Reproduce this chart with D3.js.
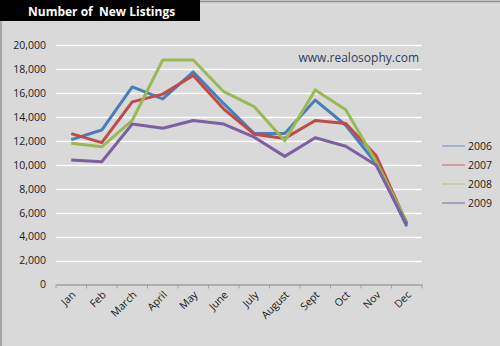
<!DOCTYPE html>
<html>
<head>
<meta charset="utf-8">
<script src="https://cdn.jsdelivr.net/npm/d3@7"></script>
<style>
  html, body { margin: 0; padding: 0; background: #d9d9d9; }
  svg { display: block; }
</style>
</head>
<body>
<div id="chart"></div>
<script>
// Monthly new listings, one array per year
const months = ["Jan", "Feb", "March", "April", "May", "June", "July", "August", "Sept", "Oct", "Nov", "Dec"];
const years = ["2006", "2007", "2008", "2009"];
const listings2006 = [12100, 12900, 16500, 15500, 17750, 15100, 12600, 12600, 15400, 13300, 10100, 4850];
const listings2007 = [12600, 11850, 15250, 15900, 17450, 14650, 12550, 12200, 13700, 13450, 10750, 5100];
const listings2008 = [11800, 11500, 13700, 18750, 18750, 16100, 14850, 12000, 16250, 14600, 10250, 5200];
const listings2009 = [10400, 10250, 13400, 13050, 13700, 13400, 12300, 10700, 12250, 11550, 9950, 5000];
const yTicks = [0, 2000, 4000, 6000, 8000, 10000, 12000, 14000, 16000, 18000, 20000];
const colors = ["#4a7ebb", "#be4b48", "#98b954", "#7d60a0"];
const legendColors = ["#8fa9cc", "#cf8d8b", "#b7cc94", "#9a8bb0"];

const series = [listings2006, listings2007, listings2008, listings2009];

const W = 500, H = 346;
const plotLeft = 56, plotRight = 422, plotTop = 45, plotBottom = 284.5;

const svg = d3.select("#chart").append("svg").attr("width", W).attr("height", H);

svg.append("rect").attr("width", W).attr("height", H).attr("fill", "#d9d9d9");
// outer frame
svg.append("line").attr("x1", 200).attr("x2", W).attr("y1", 1.5).attr("y2", 1.5)
  .attr("stroke", "#8c8c8c").attr("stroke-width", 1.5);
svg.append("line").attr("x1", 1).attr("x2", 1).attr("y1", 0).attr("y2", H)
  .attr("stroke", "#a6a6a6").attr("stroke-width", 2);

// title banner
svg.append("rect").attr("x", 0).attr("y", 0).attr("width", 200).attr("height", 21).attr("fill", "#000");
svg.append("text").attr("x", 28).attr("y", 15.5)
  .attr("font-family", "Open Sans, DejaVu Sans, sans-serif").attr("font-weight", "bold")
  .attr("font-size", 12).attr("fill", "#fff").attr("xml:space", "preserve")
  .text("Number of  New Listings");

const x = d3.scaleBand().domain(months).range([plotLeft, plotRight]);
const y = d3.scaleLinear().domain([0, 20000]).range([plotBottom, plotTop]);

// gridlines
svg.append("g").selectAll("line").data(yTicks.filter(d => d > 0)).join("line")
  .attr("x1", plotLeft).attr("x2", plotRight)
  .attr("y1", d => Math.round(y(d)) + 0.5).attr("y2", d => Math.round(y(d)) + 0.5)
  .attr("stroke", "#ffffff").attr("stroke-width", 1.5);

// y axis labels
const yAxis = d3.axisLeft(y).tickValues(yTicks).tickSize(0).tickPadding(10)
  .tickFormat(d3.format(","));
const gy = svg.append("g").attr("transform", `translate(${plotLeft},0)`).call(yAxis);
gy.select(".domain").remove();
gy.selectAll("text").attr("font-family", "Open Sans, DejaVu Sans, sans-serif")
  .attr("font-size", 10.5).attr("fill", "#1a1a1a");

// x axis
const xAxis = d3.axisBottom(x).tickSize(0).tickPadding(0);
const gx = svg.append("g").attr("transform", `translate(0,${plotBottom})`).call(xAxis);
gx.select(".domain").attr("stroke", "#a0a0a0").attr("stroke-width", 1.5);
gx.selectAll("text")
  .attr("font-family", "Open Sans, DejaVu Sans, sans-serif")
  .attr("font-size", 10.5).attr("fill", "#1a1a1a")
  .attr("text-anchor", "end").attr("dy", 0)
  .attr("transform", "translate(5,11) rotate(-45)");
// tick marks on category boundaries
const bounds = months.map(m => x(m)).concat([plotRight]);
svg.append("g").selectAll("line").data(bounds).join("line")
  .attr("x1", d => d).attr("x2", d => d)
  .attr("y1", plotBottom).attr("y2", plotBottom + 4)
  .attr("stroke", "#a0a0a0").attr("stroke-width", 1);

// lines
const line = d3.line()
  .x((d, i) => x(months[i]) + x.bandwidth() / 2)
  .y(d => y(d));
svg.append("g").selectAll("path").data(series).join("path")
  .attr("d", line).attr("fill", "none")
  .attr("stroke", (d, i) => colors[i]).attr("stroke-width", 3)
  .attr("stroke-linejoin", "round");

// watermark
svg.append("text").attr("x", 419).attr("y", 62).attr("text-anchor", "end")
  .attr("font-family", "Open Sans, DejaVu Sans, sans-serif").attr("font-size", 12)
  .attr("fill", "#2e3e5c").text("www.realosophy.com");

// legend
const lg = svg.append("g").selectAll("g").data(years).join("g")
  .attr("transform", (d, i) => `translate(442,${146 + i * 19})`);
lg.append("line").attr("x1", 0).attr("x2", 23).attr("y1", 0).attr("y2", 0)
  .attr("stroke", (d, i) => legendColors[i]).attr("stroke-width", 1.5);
lg.append("text").attr("x", 26).attr("y", 4)
  .attr("font-family", "Open Sans, DejaVu Sans, sans-serif").attr("font-size", 10.5)
  .attr("fill", "#1a1a1a").text(d => d);
</script>
</body>
</html>
